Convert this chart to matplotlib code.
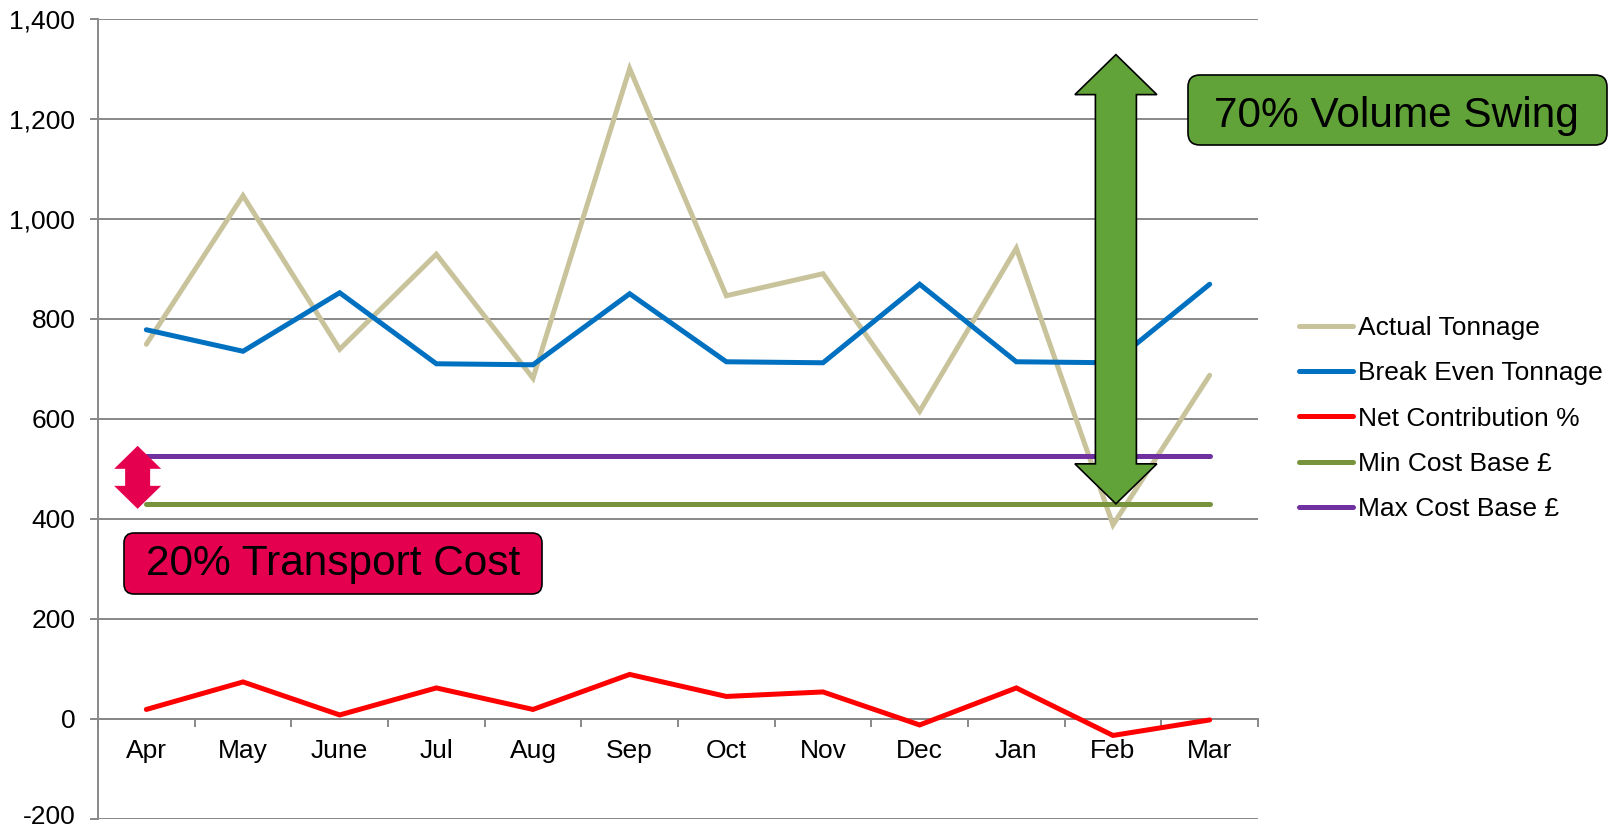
import numpy as np
import matplotlib
matplotlib.use("Agg")
import matplotlib.pyplot as plt
import matplotlib.transforms as mtransforms
from matplotlib.patches import Polygon, FancyBboxPatch
from matplotlib.ticker import FuncFormatter

plt.rcParams['font.family'] = ['Liberation Sans', 'DejaVu Sans']

months = ["Apr", "May", "June", "Jul", "Aug", "Sep", "Oct", "Nov", "Dec", "Jan", "Feb", "Mar"]
actual_tonnage = [749, 1046, 739, 929, 681, 1300, 846, 890, 615, 941, 388, 687]
break_even = [778, 735, 852, 710, 708, 850, 714, 712, 869, 714, 712, 869]
net_contribution = [19, 74, 8, 62, 19, 89, 45, 54, -12, 62, -33, -2]
min_cost_base = [429] * 12
max_cost_base = [526] * 12

series_names = ["Actual Tonnage", "Break Even Tonnage", "Net Contribution %",
                "Min Cost Base £", "Max Cost Base £"]
series_values = [actual_tonnage, break_even, net_contribution, min_cost_base, max_cost_base]
series_colors = ["#C9C39C", "#0070C0", "#FF0000", "#77933C", "#7030A0"]

W, H = 1620, 830
fig = plt.figure(figsize=(W / 100, H / 100), dpi=100)
ax = fig.add_axes([98 / W, 1 - 819 / H, (1258 - 98) / W, (819 - 18.6) / H])

x = np.arange(len(months))
for name, vals, col in zip(series_names, series_values, series_colors):
    ax.plot(x, vals, color=col, lw=3.6, label=name, solid_capstyle='round',
            solid_joinstyle='miter', zorder=3)

ax.set_xlim(-0.5, len(months) - 0.5)
ax.set_ylim(-200, 1400)
ax.set_yticks(np.arange(-200, 1401, 200))
ax.yaxis.set_major_formatter(FuncFormatter(lambda v, p: f"{int(v):,}"))
grid_col = '#888888'
ax.yaxis.grid(True, color=grid_col, lw=1.4, zorder=1)
ax.set_axisbelow(True)

for s in ['top', 'right']:
    ax.spines[s].set_visible(False)
ax.spines['left'].set_color(grid_col)
ax.spines['left'].set_linewidth(1.4)
ax.spines['bottom'].set_position(('data', 0))
ax.spines['bottom'].set_color(grid_col)
ax.spines['bottom'].set_linewidth(1.4)

ax.set_xticks(x)
ax.set_xticklabels(months)
ax.set_xticks(np.arange(-0.5, len(months), 1), minor=True)
ax.tick_params(axis='x', which='major', length=0, pad=14.2, labelsize=19)
ax.tick_params(axis='x', which='minor', length=5.8, width=1.4, color=grid_col, direction='out')
ax.tick_params(axis='y', length=5.8, width=1.4, color=grid_col, pad=10.5, labelsize=19)

# nudge the lowest y label up slightly so it stays inside the canvas
fig.canvas.draw()
lowest = ax.get_yticklabels()[0]
lowest.set_transform(lowest.get_transform() +
                     mtransforms.ScaledTranslation(0, 5 / 100, fig.dpi_scale_trans))

ax.legend(loc='center left', bbox_to_anchor=(1299 / W, 1 - 418.5 / H),
          bbox_transform=fig.transFigure, frameon=False, fontsize=19,
          handlelength=2.05, handletextpad=0.2, labelspacing=0.81,
          borderpad=0, borderaxespad=0)


def double_arrow(ax, xc, y0, y1, shaft_px, head_px, headlen_px, **kw):
    cx, b = ax.transData.transform((xc, y0))
    _, t = ax.transData.transform((xc, y1))
    pts = [(cx, t), (cx + head_px, t - headlen_px), (cx + shaft_px, t - headlen_px),
           (cx + shaft_px, b + headlen_px), (cx + head_px, b + headlen_px), (cx, b),
           (cx - head_px, b + headlen_px), (cx - shaft_px, b + headlen_px),
           (cx - shaft_px, t - headlen_px), (cx - head_px, t - headlen_px)]
    dpts = ax.transData.inverted().transform(pts)
    ax.add_patch(Polygon(dpts, closed=True, clip_on=False, **kw))


green = '#62A339'
pink = '#E5004F'
double_arrow(ax, 10.03, 430, 1328, 20.5, 41, 40, facecolor=green, edgecolor='black',
             lw=1.2, zorder=6)
double_arrow(ax, -0.09, 420, 546, 12.5, 23.5, 23, facecolor=pink, edgecolor='none',
             zorder=6)

# annotation boxes (positions in inches from figure bottom-left)
fig.add_artist(FancyBboxPatch((11.88, 6.85), 4.19, 0.70,
                              boxstyle="round,pad=0,rounding_size=0.12",
                              transform=fig.dpi_scale_trans, facecolor=green,
                              edgecolor='black', lw=1.2, zorder=7))
fig.text(1396 / W, 1 - 116 / H, "70% Volume Swing", fontsize=30.5, ha='center',
         va='center', zorder=8)
fig.add_artist(FancyBboxPatch((1.24, 2.36), 4.18, 0.61,
                              boxstyle="round,pad=0,rounding_size=0.10",
                              transform=fig.dpi_scale_trans, facecolor=pink,
                              edgecolor='black', lw=1.2, zorder=7))
fig.text(333 / W, 1 - 563.5 / H, "20% Transport Cost", fontsize=30.5, ha='center',
         va='center', zorder=8)

fig.savefig("out.png", dpi=100)
